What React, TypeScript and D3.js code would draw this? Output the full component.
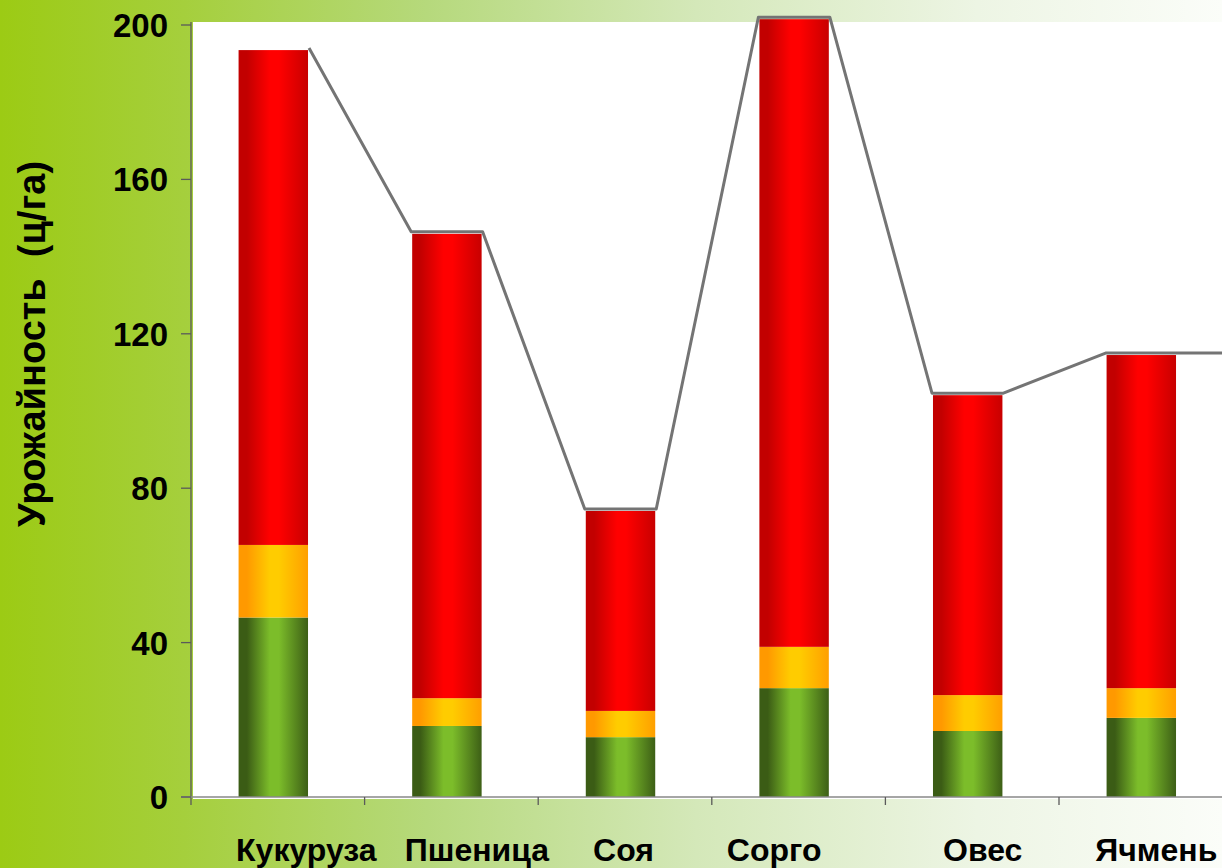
import * as d3 from "d3";
import { useEffect, useRef } from "react";

// crops and stacked yield parts (ц/га)
const crops = ["Кукуруза", "Пшеница", "Соя", "Сорго", "Овес", "Ячмень"];
const greenPart = [46.5, 18.4, 15.5, 28.2, 17.1, 20.5];
const orangePart = [18.8, 7.2, 6.8, 10.7, 9.3, 7.7];
const redPart = [128.2, 120.3, 51.8, 162.6, 77.7, 86.3];
const yTicks = [0, 40, 80, 120, 160, 200];
const yTitle = "Урожайность  (ц/га)";

// labels in the source were placed by hand, a bit off the bar centres
const labelDx = [33, 30, 3, -20, 15, 15];

const App = () => {
  const svgRef = useRef<SVGSVGElement | null>(null);
  const w = 1222;
  const h = 868;
  const axisX = 191;
  const axisY = 797;
  const step = 173.6;

  useEffect(() => {
    if (!svgRef.current) return;
    const svg = d3.select(svgRef.current);
    svg.selectAll("*").remove();

    const defs = svg.append("defs");

    const bg = defs.append("linearGradient").attr("id", "bg").attr("x1", "0").attr("x2", "1").attr("y1", "0").attr("y2", "0");
    [
      [0, "#9ccb14"], [0.15, "#a5cf3c"], [0.35, "#b6d97c"], [0.57, "#d4e8b9"], [0.8, "#edf5e4"], [1, "#fbfdf9"],
    ].forEach(([o, c]) => bg.append("stop").attr("offset", o as number).attr("stop-color", c as string));

    const grad = (id: string, edgeL: string, mid: string, edgeR: string) => {
      const g = defs.append("linearGradient").attr("id", id).attr("x1", "0").attr("x2", "1").attr("y1", "0").attr("y2", "0");
      g.append("stop").attr("offset", 0).attr("stop-color", edgeL);
      g.append("stop").attr("offset", 0.12).attr("stop-color", edgeL);
      g.append("stop").attr("offset", 0.45).attr("stop-color", mid);
      g.append("stop").attr("offset", 0.58).attr("stop-color", mid);
      g.append("stop").attr("offset", 1).attr("stop-color", edgeR);
    };
    grad("gGreen", "#3b5c15", "#7cbd2a", "#3d5f16");
    grad("gOrange", "#ff9900", "#ffcc00", "#ff9f00");
    grad("gRed", "#c20000", "#ff0000", "#c80000");

    svg.append("rect").attr("width", w).attr("height", h).attr("fill", "url(#bg)");
    svg.append("rect").attr("x", 193).attr("y", 22).attr("width", w - 193).attr("height", axisY + 2 - 22).attr("fill", "#ffffff");

    const y = d3.scaleLinear().domain([0, 200]).range([axisY, 25]);
    const x = d3.scaleBand<string>()
      .domain(crops)
      .range([axisX - 4.5, axisX - 4.5 + step * crops.length])
      .paddingInner(0.6)
      .paddingOuter(0.3);

    const rows = crops.map((c, i) => ({
      crop: c,
      green: greenPart[i],
      orange: orangePart[i],
      red: redPart[i],
    }));
    const stack = d3.stack<any>().keys(["green", "orange", "red"])(rows);
    const fills: { [k: string]: string } = { green: "url(#gGreen)", orange: "url(#gOrange)", red: "url(#gRed)" };

    const bars = svg.append("g");
    stack.forEach((layer) => {
      bars.selectAll(null)
        .data(layer)
        .enter().append("rect")
        .attr("x", (d: any) => x(d.data.crop)!)
        .attr("width", x.bandwidth())
        .attr("y", (d) => y(d[1]))
        .attr("height", (d) => y(d[0]) - y(d[1]))
        .attr("fill", fills[layer.key]);
    });

    // series line stepping over the bar tops
    const totals = stack[2].map((d) => d[1]);
    const pts: [number, number][] = [];
    crops.forEach((c, i) => {
      const ty = y(totals[i]) - 2;
      if (i > 0) pts.push([x(c)! - 1, ty]);
      pts.push([x(c)! + x.bandwidth() + 1, ty]);
    });
    pts.push([w, y(totals[totals.length - 1]) - 2]);
    svg.append("path")
      .attr("d", d3.line()(pts))
      .attr("fill", "none")
      .attr("stroke", "#747474")
      .attr("stroke-width", 3)
      .attr("stroke-linejoin", "round");

    // axes
    const axisColor = "#5a5a5a";
    svg.append("line").attr("x1", axisX).attr("x2", axisX).attr("y1", 22).attr("y2", axisY + 8)
      .attr("stroke", axisColor).attr("stroke-width", 1.3);
    svg.append("line").attr("x1", axisX - 10).attr("x2", w).attr("y1", axisY).attr("y2", axisY)
      .attr("stroke", "#888888").attr("stroke-width", 1.5);

    const yt = svg.append("g");
    yTicks.forEach((t) => {
      yt.append("line").attr("x1", axisX - 10).attr("x2", axisX).attr("y1", y(t)).attr("y2", y(t))
        .attr("stroke", axisColor).attr("stroke-width", 1.3);
      yt.append("text")
        .attr("x", 168).attr("y", y(t) + 12)
        .attr("text-anchor", "end")
        .attr("font-family", "Liberation Sans, Arial, sans-serif")
        .attr("font-weight", "bold")
        .attr("font-size", 33)
        .attr("fill", "#000")
        .text(t);
    });

    crops.forEach((c, i) => {
      const tx = axisX + step * (i + 1);
      svg.append("line").attr("x1", tx).attr("x2", tx).attr("y1", axisY).attr("y2", axisY + 8)
        .attr("stroke", axisColor).attr("stroke-width", 1.3);
      svg.append("text")
        .attr("x", x(c)! + x.bandwidth() / 2 + labelDx[i])
        .attr("y", 861)
        .attr("text-anchor", "middle")
        .attr("font-family", "Liberation Sans, Arial, sans-serif")
        .attr("font-weight", "bold")
        .attr("font-size", 32)
        .attr("fill", "#000")
        .text(c);
    });

    svg.append("text")
      .attr("transform", `translate(45, 344) rotate(-90)`)
      .attr("text-anchor", "middle")
      .attr("font-family", "Liberation Sans, Arial, sans-serif")
      .attr("font-weight", "bold")
      .attr("font-size", 38)
      .attr("fill", "#000")
      .style("white-space", "pre")
      .text(yTitle);
  }, []);

  return (
    <svg
      ref={svgRef}
      width={w}
      height={h}
      viewBox={`0 0 ${w} ${h}`}
      style={{ position: "absolute", left: 0, top: 0, display: "block" }}
    ></svg>
  );
};

export default App;
